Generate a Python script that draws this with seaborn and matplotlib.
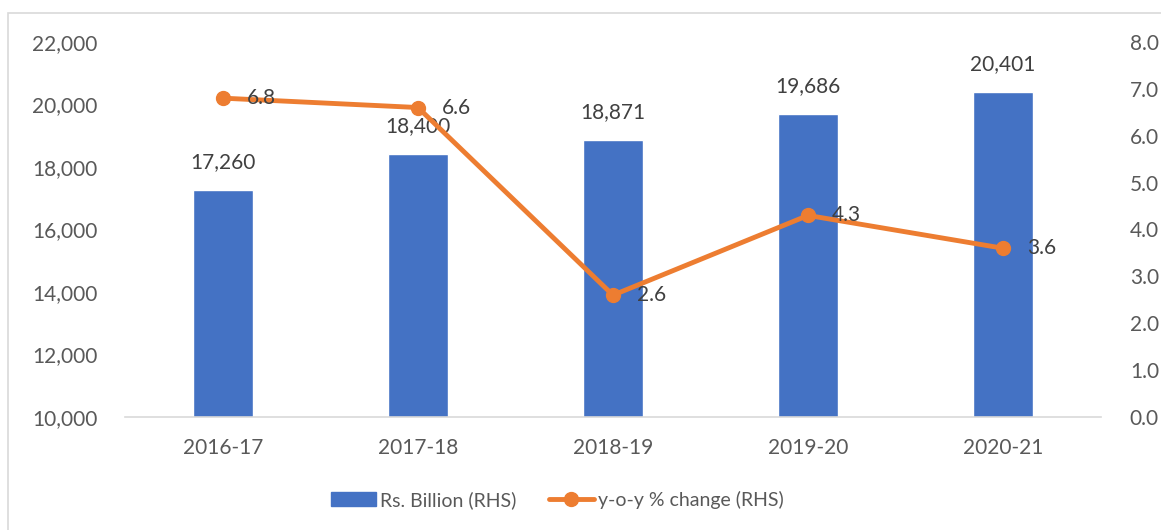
import matplotlib.pyplot as plt
import matplotlib.patches as mpatches
from matplotlib.lines import Line2D
from matplotlib.ticker import FuncFormatter
import seaborn as sns
import pandas as pd

# data
years = ["2016-17", "2017-18", "2018-19", "2019-20", "2020-21"]
rs_billion = [17260, 18400, 18871, 19686, 20401]
yoy_change = [6.8, 6.6, 2.6, 4.3, 3.6]

BLUE = "#4472C4"
ORANGE = "#ED7D31"
TXT = "#595959"
FS = 15

sns.set_theme(style="white")
plt.rcParams["font.family"] = ["Lato", "DejaVu Sans"]

df = pd.DataFrame({"year": years, "value": rs_billion})

fig = plt.figure(figsize=(11.61, 5.30), dpi=100)
ax = fig.add_axes([0.108, 0.213, 0.840, 0.708])

sns.barplot(data=df, x="year", y="value", color=BLUE, width=0.31,
            saturation=1, ax=ax)
ax.set_ylim(10000, 22000)
ax.set_yticks(range(10000, 22001, 2000))
ax.yaxis.set_major_formatter(FuncFormatter(lambda v, p: f"{v:,.0f}"))
ax.set_xlabel("")
ax.set_ylabel("")
ax.tick_params(axis="both", labelsize=FS, colors=TXT, length=0)
ax.tick_params(axis="x", pad=15)
ax.tick_params(axis="y", pad=20)
for s in ["top", "right", "left"]:
    ax.spines[s].set_visible(False)
ax.spines["bottom"].set_color("#D9D9D9")
ax.spines["bottom"].set_linewidth(1.2)

for i, v in enumerate(rs_billion):
    ax.annotate(f"{v:,}", (i, v), xytext=(0, 13), textcoords="offset points",
                ha="center", va="bottom", fontsize=FS, color="#404040")

ax2 = ax.twinx()
xs = list(range(len(years)))
ax2.plot(xs, yoy_change, color=ORANGE, lw=3.5, marker="o", ms=10, zorder=5)
ax2.set_ylim(0, 8)
ax2.set_yticks(range(0, 9))
ax2.yaxis.set_major_formatter(FuncFormatter(lambda v, p: f"{v:.1f}"))
ax2.tick_params(axis="y", labelsize=FS, colors=TXT, length=0, pad=21)
for s in ["top", "right", "left", "bottom"]:
    ax2.spines[s].set_visible(False)
ax.set_xlim(-0.5, len(years) - 0.5)

for i, v in enumerate(yoy_change):
    ax2.annotate(f"{v:.1f}", (i, v), xytext=(17, 0), textcoords="offset points",
                 ha="left", va="center", fontsize=FS, color="#404040", zorder=6)

handles = [
    mpatches.Patch(color=BLUE, label="Rs. Billion (RHS)"),
    Line2D([0], [0], color=ORANGE, lw=3.5, marker="o", ms=10,
           label="y-o-y % change (RHS)"),
]
fig.legend(handles=handles, loc="center", bbox_to_anchor=(0.48, 0.057),
           ncol=2, frameon=False, fontsize=14, labelcolor=TXT,
           handlelength=2.3, handletextpad=0.2, columnspacing=1.7)

# light frame around the chart area
fig.patches.append(mpatches.Rectangle((8 / 1161, -0.05), 1.2, (530 - 13) / 530 + 0.05,
                                      transform=fig.transFigure, fill=False,
                                      edgecolor="#D9D9D9", lw=1.2))

fig.savefig("out.png", dpi=100)
